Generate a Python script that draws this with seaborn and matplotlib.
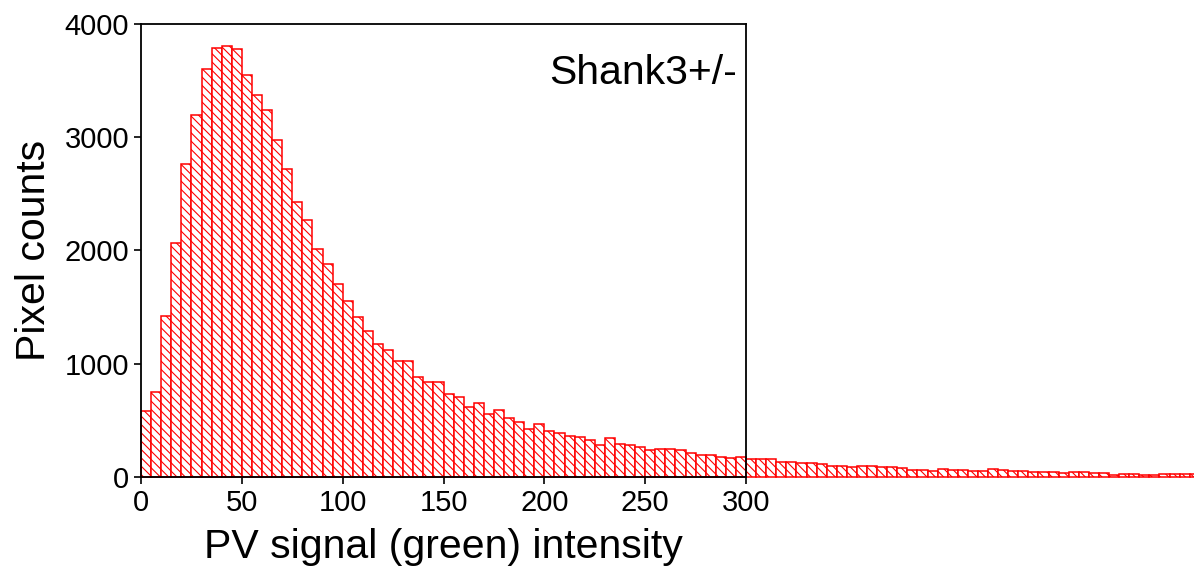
import numpy as np
import pandas as pd
import matplotlib
matplotlib.use("Agg")
import matplotlib.pyplot as plt
import seaborn as sns

# histogram of PV (green) signal, bin width 5, bars run past the axes box
bin_width = 5
counts = [
    580, 750, 1420, 2070, 2760, 3200, 3600, 3785, 3805, 3775,
    3550, 3375, 3240, 2975, 2720, 2425, 2265, 2010, 1885, 1700,
    1555, 1410, 1290, 1175, 1120, 1025, 1025, 880, 840, 835,
    735, 710, 620, 655, 555, 590, 520, 490, 420, 465,
    410, 390, 360, 350, 330, 280, 345, 295, 285, 265,
    240, 245, 245, 240, 215, 195, 195, 175, 170, 175,
    160, 155, 155, 135, 135, 125, 120, 115, 100, 100,
    92, 98, 95, 86, 84, 80, 66, 64, 50, 70,
    58, 58, 56, 56, 68, 58, 50, 53, 42, 42,
    42, 36, 42, 45, 33, 36, 22, 31, 31, 20,
    20, 25, 25, 25, 25,
]
label = "Shank3+/-"
x_ticks = [0, 50, 100, 150, 200, 250, 300]
y_ticks = [0, 1000, 2000, 3000, 4000]

n_bins = len(counts)
df = pd.DataFrame({"intensity": np.arange(n_bins) * bin_width + bin_width / 2,
                   "pixels": counts})

sns.set_theme(style="ticks")
plt.rcParams["font.family"] = ["Liberation Sans", "DejaVu Sans"]
plt.rcParams["hatch.linewidth"] = 0.8
plt.rcParams["text.color"] = "black"
plt.rcParams["axes.labelcolor"] = "black"
plt.rcParams["xtick.color"] = "black"
plt.rcParams["ytick.color"] = "black"

fig = plt.figure(figsize=(11.94, 5.71), dpi=100)
ax = fig.add_axes([0.1181, 0.1646, 0.5067, 0.7934])

sns.histplot(data=df, x="intensity", weights="pixels", binwidth=bin_width,
             binrange=(0, n_bins * bin_width), ax=ax, color="red", linewidth=1.1)
for p in ax.patches:
    p.set_facecolor("white")
    p.set_edgecolor("red")
    p.set_hatch("\\\\\\\\")
    p.set_clip_on(False)
    p.set_zorder(1)

ax.set_xlim(0, 300)
ax.set_ylim(0, 4000)
ax.set_xticks(x_ticks)
ax.set_yticks(y_ticks)
ax.tick_params(axis="both", labelsize=21, length=5, width=1.2,
               colors="black")
for s in ax.spines.values():
    s.set_visible(True)
    s.set_color("black")
    s.set_linewidth(1.3)
    s.set_zorder(3)

ax.set_xlabel("PV signal (green) intensity", fontsize=29.5, labelpad=8,
              color="black")
ax.set_ylabel("Pixel counts", fontsize=29.5, labelpad=8, color="black")
ax.text(0.985, 0.868, label, transform=ax.transAxes, ha="right",
        va="baseline", fontsize=29.5, color="black")

fig.savefig("out.png", dpi=100)
